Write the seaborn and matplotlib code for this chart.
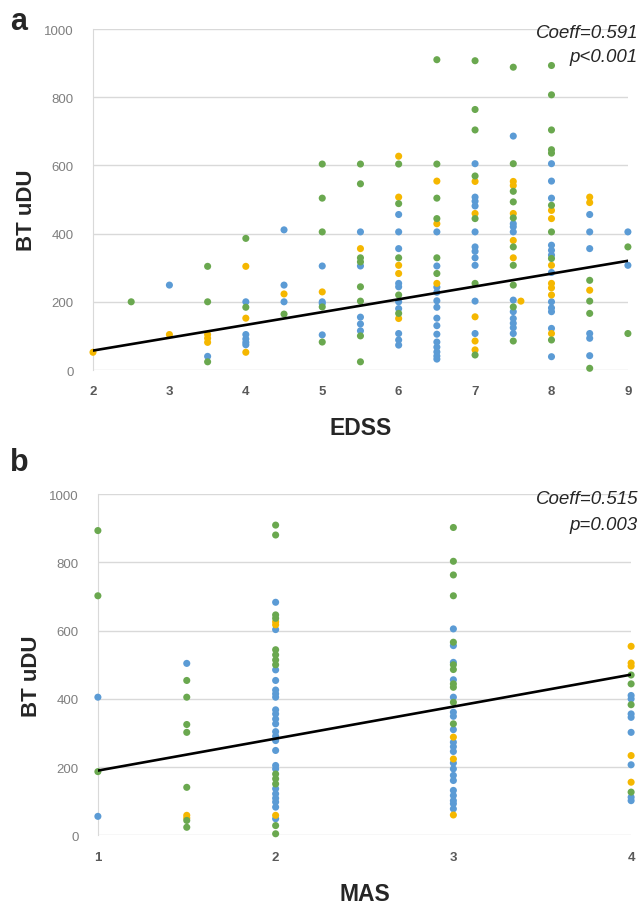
import numpy as np
import pandas as pd
import seaborn as sns
import matplotlib.pyplot as plt

# panel a: BT uDU vs EDSS, one x/y list per colour group
a_blue_x = [3, 3.5, 4, 4, 4, 4, 4, 4.5, 4.5, 4.5, 5, 5, 5, 5,
            5.5, 5.5, 5.5, 5.5, 5.5,
            6, 6, 6, 6, 6, 6, 6, 6, 6, 6,
            6.5, 6.5, 6.5, 6.5, 6.5, 6.5, 6.5, 6.5, 6.5, 6.5, 6.5, 6.5, 6.5, 6.5,
            7, 7, 7, 7, 7, 7, 7, 7, 7, 7, 7,
            7.5, 7.5, 7.5, 7.5, 7.5, 7.5, 7.5, 7.5, 7.5, 7.5,
            8, 8, 8, 8, 8, 8, 8, 8, 8, 8, 8, 8,
            8.5, 8.5, 8.5, 8.5, 8.5, 8.5, 9, 9]
a_blue_y = [249, 40, 200, 104, 91, 81, 74, 411, 249, 200, 305, 200, 195, 103,
            405, 305, 155, 135, 115,
            456, 405, 356, 254, 244, 200, 180, 107, 88, 73,
            405, 305, 243, 228, 203, 184, 152, 130, 105, 82, 67, 53, 41, 32,
            605, 507, 495, 481, 405, 361, 348, 329, 307, 202, 107,
            686, 429, 420, 405, 205, 171, 151, 137, 124, 107,
            605, 554, 504, 366, 351, 337, 286, 200, 182, 171, 122, 39,
            456, 405, 356, 107, 93, 42, 405, 307]
a_yellow_x = [2, 3, 3.5, 3.5, 3.5, 4, 4, 4, 4.5, 5, 5.5,
              6, 6, 6, 6, 6, 6.5, 6.5, 6.5,
              7, 7, 7, 7, 7, 7.5, 7.5, 7.5, 7.5, 7.5, 7.6,
              8, 8, 8, 8, 8, 8, 8, 8.5, 8.5, 8.5]
a_yellow_y = [52, 104, 104, 93, 81, 304, 152, 52, 223, 229, 356,
              627, 507, 307, 283, 151, 554, 429, 254,
              553, 459, 156, 85, 59, 553, 541, 459, 380, 329, 202,
              468, 444, 307, 254, 241, 220, 107, 507, 491, 234]
a_green_x = [2.5, 3.5, 3.5, 3.5, 4, 4, 4.5, 5, 5, 5, 5, 5,
             5.5, 5.5, 5.5, 5.5, 5.5, 5.5, 5.5, 5.5,
             6, 6, 6, 6, 6, 6.5, 6.5, 6.5, 6.5, 6.5, 6.5,
             7, 7, 7, 7, 7, 7, 7,
             7.5, 7.5, 7.5, 7.5, 7.5, 7.5, 7.5, 7.5, 7.5, 7.5,
             8, 8, 8, 8, 8, 8, 8, 8, 8,
             8.5, 8.5, 8.5, 8.5, 9, 9]
a_green_y = [200, 304, 200, 24, 386, 184, 164, 604, 504, 405, 185, 82,
             604, 546, 329, 317, 244, 202, 100, 24,
             604, 488, 329, 220, 166, 910, 604, 504, 444, 329, 283,
             907, 764, 704, 569, 444, 254, 44,
             888, 605, 524, 493, 446, 361, 307, 249, 185, 85,
             893, 807, 704, 646, 636, 483, 405, 327, 88,
             263, 202, 166, 5, 361, 107]

# panel b: BT uDU vs MAS
b_blue_x = [1, 1, 1.5] + [2] * 23 + [3] * 20 + [4] * 8
b_blue_y = [405, 56, 504,
            683, 603, 485, 454, 426, 415, 405, 368, 356, 341, 327, 304,
            291, 278, 249, 205, 195, 137, 122, 109, 98, 83, 49,
            605, 556, 507, 456, 405, 361, 349, 310, 273, 260, 246, 212,
            195, 176, 161, 132, 117, 102, 93, 78,
            410, 400, 356, 346, 302, 207, 112, 102]
b_yellow_x = [1.5, 1.5, 2, 2, 2, 3, 3, 3, 4, 4, 4, 4, 4]
b_yellow_y = [59, 51, 626, 617, 59, 288, 224, 60, 554, 505, 496, 234, 156]
b_green_x = [1] * 3 + [1.5] * 7 + [2] * 13 + [3] * 11 + [4] * 4
b_green_y = [893, 702, 187,
             454, 405, 325, 302, 141, 44, 24,
             909, 880, 646, 636, 544, 529, 514, 500, 180, 166, 151, 29, 5,
             902, 803, 763, 702, 566, 500, 486, 444, 434, 390, 327,
             470, 444, 383, 127]

# linear fits: intercept, slope
a_fit = [-18.2, 37.6]
b_fit = [96.3, 93.7]
a_stats = ["Coeff=0.591", "p<0.001"]
b_stats = ["Coeff=0.515", "p=0.003"]

colors = {"blue": "#5b9bd5", "yellow": "#f5b700", "green": "#6aa84f"}


def make_df(bx, by, yx, yy, gx, gy):
    return pd.concat([
        pd.DataFrame({"x": bx, "y": by, "grp": "blue"}),
        pd.DataFrame({"x": yx, "y": yy, "grp": "yellow"}),
        pd.DataFrame({"x": gx, "y": gy, "grp": "green"}),
    ], ignore_index=True)


df_a = make_df(a_blue_x, a_blue_y, a_yellow_x, a_yellow_y, a_green_x, a_green_y)
df_b = make_df(b_blue_x, b_blue_y, b_yellow_x, b_yellow_y, b_green_x, b_green_y)

sns.set_style("white")
plt.rcParams['font.family'] = ['Liberation Sans', 'DejaVu Sans']

fig = plt.figure(figsize=(6.44, 9.04), dpi=100)
ax_a = fig.add_axes([0.1444, 0.5896, 0.8306, 0.3772])
ax_b = fig.add_axes([0.152, 0.0747, 0.828, 0.3777])


def style_panel(ax, df, fit, xlim, xlabel, ylab_y):
    sns.scatterplot(data=df, x="x", y="y", hue="grp", palette=colors,
                    s=26, edgecolor="none", legend=False, ax=ax, zorder=3,
                    clip_on=False)
    xs = np.array(xlim, dtype=float)
    ax.plot(xs, fit[0] + fit[1] * xs, color="black", lw=1.9, zorder=4)
    ax.set_xlim(xlim)
    ax.set_ylim(0, 1000)
    ax.set_yticks(range(0, 1001, 200))
    ax.set_xticks(range(int(xlim[0]), int(xlim[1]) + 1))
    ax.grid(axis="y", color="#d9d9d9", lw=1)
    ax.set_axisbelow(True)
    for side in ["top", "right", "bottom"]:
        ax.spines[side].set_visible(False)
    ax.spines["left"].set_color("#d9d9d9")
    ax.tick_params(axis="y", length=0, labelsize=9.5, labelcolor="#7f7f7f", pad=14)
    ax.tick_params(axis="x", length=0, labelsize=9.5, labelcolor="#595959", pad=11)
    for t in ax.get_xticklabels():
        t.set_fontweight("bold")
    ax.set_xlabel(xlabel, fontsize=16.5, fontweight="bold")
    ax.xaxis.set_label_coords(0.5, -0.135)
    ax.set_ylabel("BT uDU", fontsize=16, fontweight="bold")
    ax.yaxis.set_label_coords(-0.105, ylab_y)


style_panel(ax_a, df_a, a_fit, [2, 9], "EDSS", 0.47)
style_panel(ax_b, df_b, b_fit, [1, 4], "MAS", 0.47)

# stats and panel letters, placed in figure pixels
W, H = 644, 904
for stats, y0 in [(a_stats, 33), (b_stats, 500)]:
    fig.text(638 / W, 1 - y0 / H, stats[0], ha="right", va="center",
             fontsize=13.5, fontstyle="italic")
    fig.text(638 / W, 1 - (y0 + 25) / H, stats[1], ha="right", va="center",
             fontsize=13.5, fontstyle="italic")
for letter, y0 in [("a", 22), ("b", 463)]:
    fig.text(10 / W, 1 - y0 / H, letter, ha="left", va="center",
             fontsize=22, fontweight="bold")

fig.savefig("out.png", dpi=100)
